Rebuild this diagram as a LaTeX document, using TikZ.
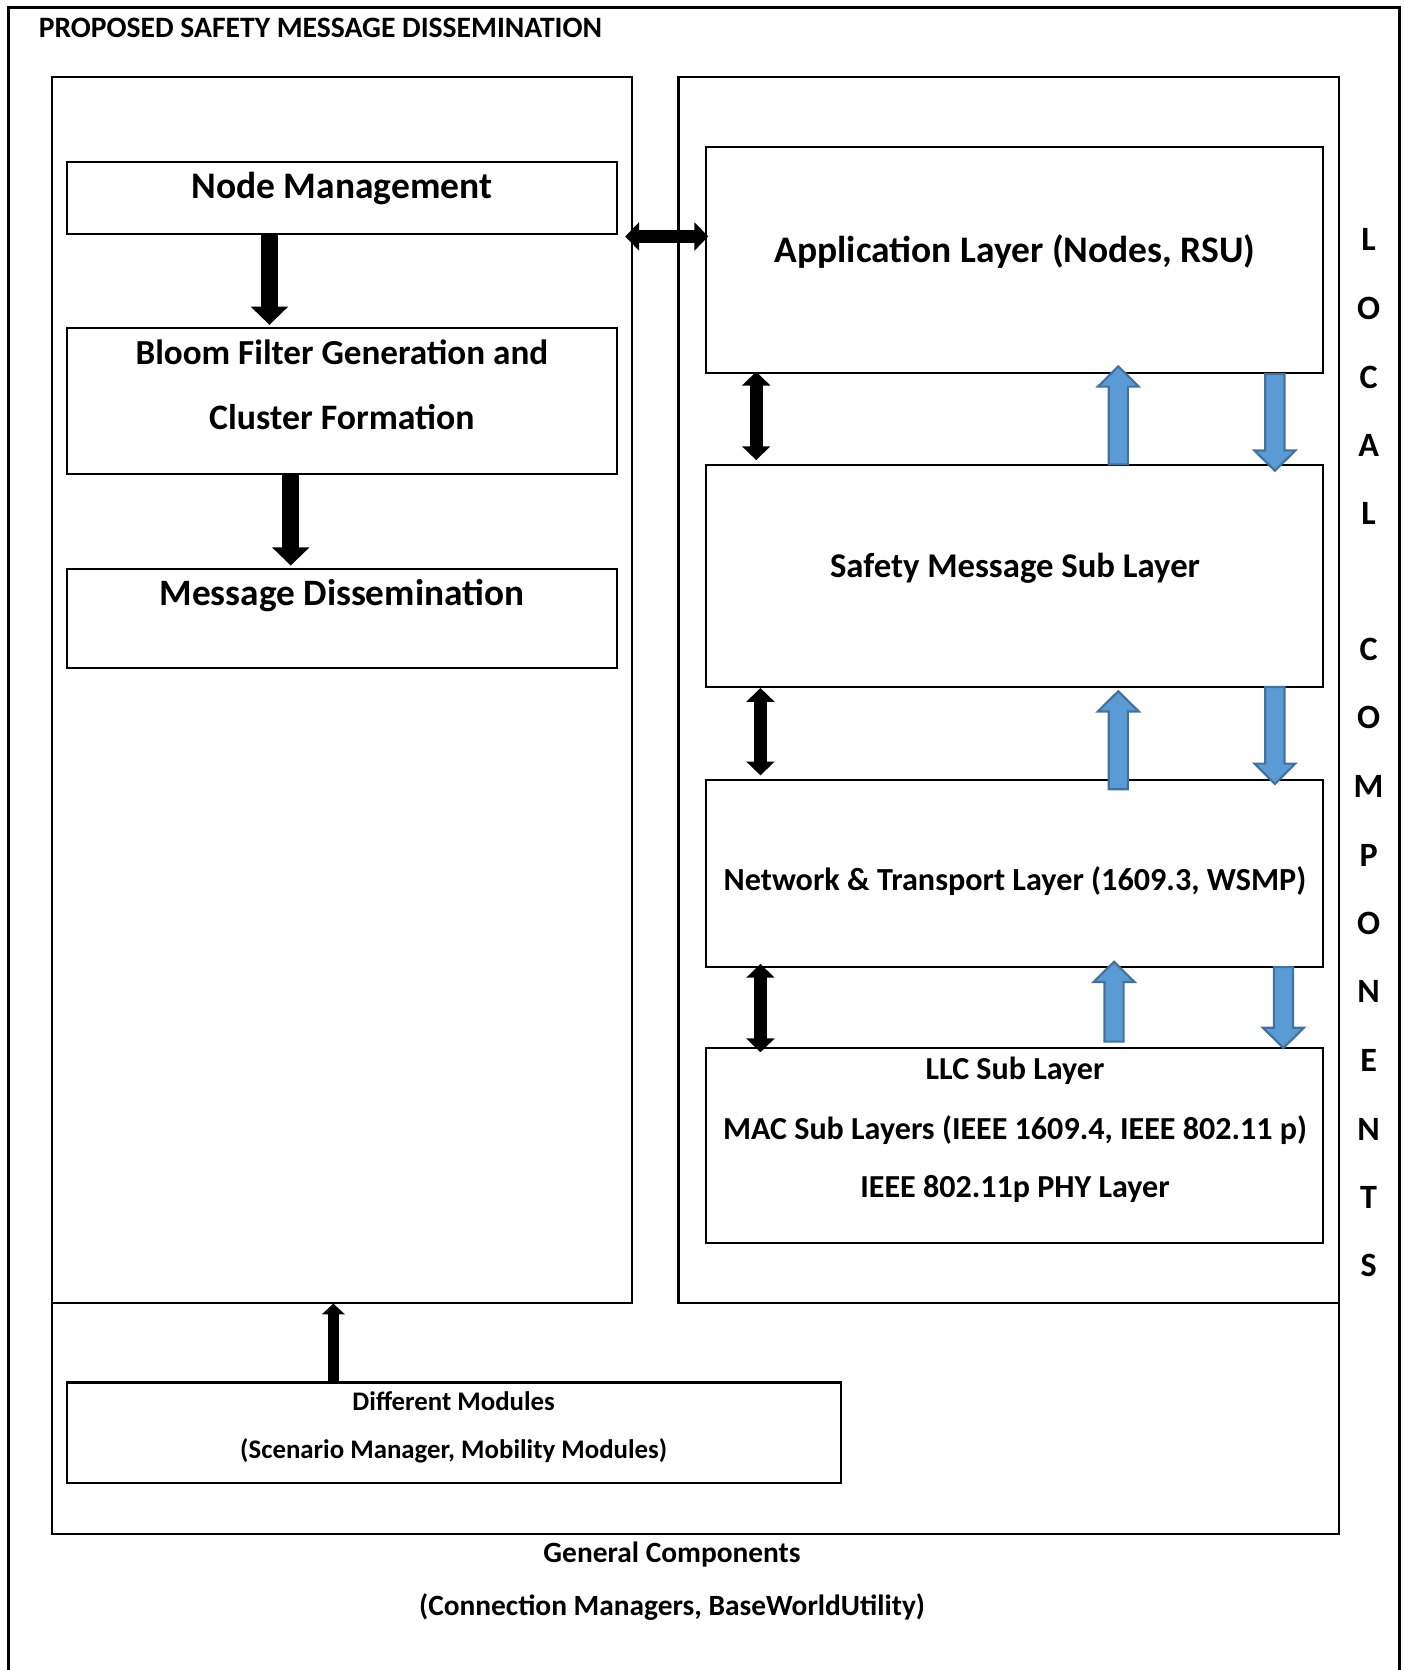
\documentclass[tikz,border=0pt]{standalone}
\usepackage{fontspec}
\setmainfont{Carlito}
\usetikzlibrary{arrows.meta,calc}
\definecolor{bfill}{HTML}{5B9BD5}
\definecolor{bline}{HTML}{41719C}
\newcommand\blockarrow[6]{%
  \path[#1] let \p1=#2,\p2=#3,\n1={(\y2-\y1)/abs(\y2-\y1)} in
    (\x1-#4,\y1) -- (\x1-#4,\y2-\n1*#6) -- (\x1-#5,\y2-\n1*#6) -- (\x1,\y2)
    -- (\x1+#5,\y2-\n1*#6) -- (\x1+#4,\y2-\n1*#6) -- (\x1+#4,\y1) -- cycle;}
\tikzset{
  frame/.style={draw, line width=1pt, inner sep=0pt, outer sep=0pt, anchor=north west},
  txt/.style={font=\bfseries, inner sep=0pt},
  bigarrow/.style={line width=8pt, -{Triangle[length=8.5pt,width=17pt]}},
  dblarrow/.style={line width=6pt, {Triangle[length=6.5pt,width=13pt]}-{Triangle[length=6.5pt,width=13pt]}},
  thinarrow/.style={line width=5pt, -{Triangle[length=5pt,width=10.5pt]}},
  bluearrow/.style={fill=bfill, draw=bline, line width=1pt, line join=miter},
  letter/.style={font=\bfseries\fontsize{16}{19}\selectfont, inner sep=0pt},
}
\begin{document}
\begin{tikzpicture}[x=0.5pt,y=-0.5pt]
\useasboundingbox (0,0) rectangle (1319,1568);
% outer frame (open at bottom)
\draw[line width=1pt] (8,1570) -- (8,7) -- (1314,7) -- (1314,1570);
\node[txt, anchor=west, font=\bfseries\fontsize{13.9}{16}\selectfont] (title) at (36,26) {PROPOSED SAFETY MESSAGE DISSEMINATION};
% main frames
\node[frame, minimum width=272pt, minimum height=575.5pt] (leftbox) at (49,72) {};
\node[frame, minimum width=310pt, minimum height=575.5pt] (rightbox) at (637,72) {};
\draw[line width=1pt] (leftbox.south west) -- (49,1440) -- (1257,1440) -- (rightbox.south east);
% left column
\node[frame, minimum width=258pt, minimum height=34pt] (nm) at (63,152) {};
\node[frame, minimum width=258pt, minimum height=68.5pt] (bf) at (63,308) {};
\node[frame, minimum width=258pt, minimum height=46.5pt] (md) at (63,534) {};
\node[txt, font=\bfseries\fontsize{17.6}{20}\selectfont] (nmt) at (321,177) {Node Management};
\node[txt, font=\bfseries\fontsize{16.5}{20}\selectfont] (bft1) at (321,331) {Bloom Filter Generation and};
\node[txt, font=\bfseries\fontsize{16.8}{20}\selectfont] (bft2) at (321,392) {Cluster Formation};
\node[txt, font=\bfseries\fontsize{17.5}{20}\selectfont] (mdt) at (321,559) {Message Dissemination};
% right column
\node[frame, minimum width=289.5pt, minimum height=106pt] (app) at (663,138) {};
\node[frame, minimum width=289.5pt, minimum height=104pt] (sml) at (663,437) {};
\node[frame, minimum width=289.5pt, minimum height=88pt] (ntl) at (663,732) {};
\node[frame, minimum width=289.5pt, minimum height=91.5pt] (llc) at (663,984) {};
\node[txt, font=\bfseries\fontsize{17.6}{20}\selectfont] (appt) at (953,236) {Application Layer (Nodes, RSU)};
\node[txt, font=\bfseries\fontsize{16.3}{19}\selectfont] (smlt) at (953,534) {Safety Message Sub Layer};
\node[txt, font=\bfseries\fontsize{15.1}{18}\selectfont] (ntlt) at (953,827) {Network \& Transport Layer (1609.3, WSMP)};
\node[txt, font=\bfseries\fontsize{15.05}{18}\selectfont] (llct1) at (953,1005) {LLC Sub Layer};
\node[txt, font=\bfseries\fontsize{15.05}{18}\selectfont] (llct2) at (953,1061) {MAC Sub Layers (IEEE 1609.4, IEEE 802.11 p)};
\node[txt, font=\bfseries\fontsize{15.05}{18}\selectfont] (llct3) at (953,1116) {IEEE 802.11p PHY Layer};
% bottom
\node[frame, minimum width=363.5pt, minimum height=47pt] (dm) at (63,1298) {};
\node[txt, font=\bfseries\fontsize{12.6}{15}\selectfont] (dmt1) at (426,1316) {Different Modules};
\node[txt, font=\bfseries\fontsize{12.6}{15}\selectfont] (dmt2) at (426,1362) {(Scenario Manager, Mobility Modules)};
\node[txt, font=\bfseries\fontsize{13.8}{16}\selectfont] (gc1) at (631,1460) {General Components};
\node[txt, font=\bfseries\fontsize{13.8}{16}\selectfont] (gc2) at (631,1509) {(Connection Managers, BaseWorldUtility)};
% vertical letters
\foreach \l/\y [count=\i] in {L/225,O/290,C/354,A/418,L/482,C/610,O/674,M/738,P/803,O/867,N/931,E/996,N/1060,T/1124,S/1188}
  \node[letter] (lc\i) at (1285,\y) {\l};
% black arrows
\draw[bigarrow] (253,0 |- nm.south) -- (253,305);
\draw[bigarrow] (273,0 |- bf.south) -- (273,531);
\draw[dblarrow] (587,222) -- (665,222);
\draw[dblarrow] (710,349) -- (710,432);
\draw[dblarrow] (714,646) -- (714,728);
\draw[dblarrow] (714,905) -- (714,988);
\draw[thinarrow] (313,0 |- dm.north) -- (313,1224);
% blue arrows
\coordinate (u1a) at (1050,436); \coordinate (u1b) at (1050,344);
\coordinate (d1a) at (1197,351); \coordinate (d1b) at (1197,442);
\coordinate (u2a) at (1050,741); \coordinate (u2b) at (1050,649);
\coordinate (d2a) at (1197,645); \coordinate (d2b) at (1197,736);
\coordinate (u3a) at (1046,978); \coordinate (u3b) at (1046,903);
\coordinate (d3a) at (1205,908); \coordinate (d3b) at (1205,984);
\blockarrow{bluearrow}{(u1a)}{(u1b)}{4.5pt}{9.6pt}{9.5pt}
\blockarrow{bluearrow}{(d1a)}{(d1b)}{4.5pt}{9.6pt}{9.5pt}
\blockarrow{bluearrow}{(u2a)}{(u2b)}{4.5pt}{9.6pt}{9.5pt}
\blockarrow{bluearrow}{(d2a)}{(d2b)}{4.5pt}{9.6pt}{9.5pt}
\blockarrow{bluearrow}{(u3a)}{(u3b)}{4.5pt}{9.6pt}{9.5pt}
\blockarrow{bluearrow}{(d3a)}{(d3b)}{4.5pt}{9.6pt}{9.5pt}
\end{tikzpicture}
\end{document}
